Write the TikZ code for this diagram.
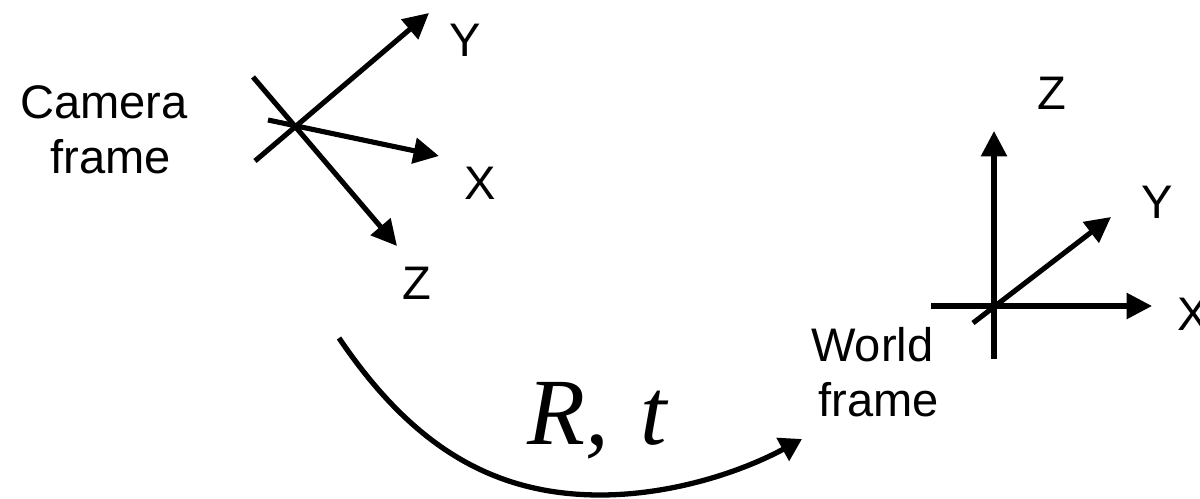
\documentclass[tikz,border=0pt]{standalone}
\usepackage{fontspec}
\setmainfont{Liberation Sans}
\newfontfamily\seriffont{Liberation Serif}
\usetikzlibrary{arrows.meta}

\begin{document}
\begin{tikzpicture}[
        x=0.02cm, y=-0.02cm,
        axislabel/.style={inner sep=0pt, font=\fontsize{26.8}{31}\selectfont},
        framelabel/.style={inner sep=0pt, font=\fontsize{26.8}{31.2}\selectfont},
        axis/.style={line width=2.9pt, -{Triangle[length=14.5pt,width=14.4pt]}},
        motion/.style={line width=3pt, -{Triangle[length=12.5pt,width=14.4pt]}}
    ]
        \useasboundingbox (0, 0) rectangle (1200, 499);

        % Camera Frame
        \node[framelabel, align=center] (camera) at (104, 130) {Camera\\\hspace*{7.4pt}frame};
        \coordinate (camy0) at (255, 161);
        \coordinate (camy1) at (429, 13);
        \coordinate (camx0) at (268, 120);
        \coordinate (camx1) at (439, 156);
        \coordinate (camz0) at (253, 77);
        \coordinate (camz1) at (397, 246);
        \node[axislabel] (camylabel) at (465, 40) {Y};
        \node[axislabel] (camxlabel) at (480, 183) {X};
        \node[axislabel] (camzlabel) at (417, 283) {Z};
        \draw[axis] (camy0) -- (camy1);
        \draw[axis] (camx0) -- (camx1);
        \draw[axis] (camz0) -- (camz1);

        % World Frame
        \node[framelabel, align=left] (world) at (875, 372) {World\\\hspace*{4pt}frame};
        \coordinate (worldz0) at (994, 359);
        \coordinate (worldz1) at (994, 131);
        \coordinate (worldx0) at (931, 306);
        \coordinate (worldx1) at (1152, 306);
        \coordinate (worldy0) at (973, 323);
        \coordinate (worldy1) at (1111, 217);
        \node[axislabel] (worldzlabel) at (1052, 93) {Z};
        \node[axislabel] (worldylabel) at (1157, 202) {Y};
        \node[axislabel] (worldxlabel) at (1193, 314) {X};
        \draw[axis] (worldz0) -- (worldz1);
        \draw[axis] (worldx0) -- (worldx1);
        \draw[axis] (worldy0) -- (worldy1);

        % Rigid Motion
        \coordinate (motion0) at (339, 338);
        \coordinate (motionmid) at (600, 495);
        \coordinate (motion1) at (802, 439);
        \node[inner sep=0pt, anchor=base, font=\fontsize{54}{60}\selectfont\seriffont\itshape] (rt) at (597, 445) {R,\hspace{4.5pt} t};
        \draw[motion] (motion0) .. controls (410, 443) and (490, 495) .. (motionmid)
            .. controls (675, 495) and (745, 470) .. (motion1);
    \end{tikzpicture}
\end{document}
